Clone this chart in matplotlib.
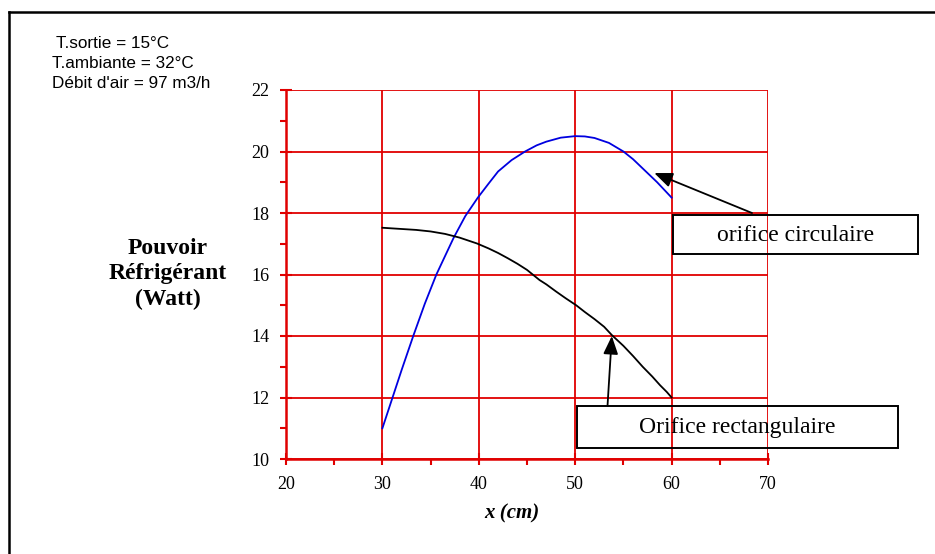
import matplotlib
matplotlib.use("Agg")
import matplotlib.pyplot as plt
from matplotlib.ticker import MultipleLocator
from matplotlib.lines import Line2D
from matplotlib.patches import Rectangle

# Data
x_circ = [30, 31, 32, 33.2, 34.4, 35.6, 36.5, 37.4, 38.6, 39.9, 41, 42, 43.4, 44.8, 46, 47,
          48.5, 50, 51, 52, 53.5, 55, 56, 57, 58.5, 60]
y_circ = [11.0, 11.95, 12.9, 14.0, 15.05, 16.0, 16.6, 17.2, 17.9, 18.5, 18.95, 19.35, 19.72,
          20.0, 20.2, 20.32, 20.45, 20.5, 20.49, 20.44, 20.28, 20.0, 19.75, 19.45, 19.0, 18.5]
x_rect = [30, 31, 32, 33.5, 35, 36.5, 38, 39.8, 41, 42, 43, 44, 45, 46.3, 47, 48, 49, 50.1,
          51, 52, 53, 53.8, 55, 56, 57, 58, 58.8, 59.5, 60]
y_rect = [17.52, 17.5, 17.48, 17.45, 17.4, 17.32, 17.2, 17.01, 16.85, 16.7, 16.53, 16.35,
          16.15, 15.82, 15.68, 15.45, 15.23, 15.0, 14.78, 14.55, 14.3, 14.03, 13.68, 13.35,
          13.0, 12.68, 12.4, 12.18, 12.0]
xticks = [20, 30, 40, 50, 60, 70]
yticks = [10, 12, 14, 16, 18, 20, 22]
info_lines = ["T.sortie = 15°C", "T.ambiante = 32°C", "Débit d'air = 97 m3/h"]
label_circ = "orifice circulaire"
label_rect = "Orifice rectangulaire"

W, H = 935, 554
fig = plt.figure(figsize=(W/100, H/100), dpi=100)
ax = fig.add_axes([286/W, 1-459/H, (768-286)/W, (459-90)/H])

red = "#e00000"
ax.plot(x_circ, y_circ, color="#0000e0", lw=1.3, zorder=3)
ax.plot(x_rect, y_rect, color="black", lw=1.3, zorder=3)

ax.set_xlim(20, 70)
ax.set_ylim(10, 22)
ax.set_xticks(xticks)
ax.set_yticks(yticks)
ax.xaxis.set_minor_locator(MultipleLocator(5))
ax.yaxis.set_minor_locator(MultipleLocator(1))
ax.grid(True, which="major", color=red, lw=1.3)
for s in ["top", "right"]:
    ax.spines[s].set_visible(False)
for s in ["left", "bottom"]:
    ax.spines[s].set_color(red)
    ax.spines[s].set_linewidth(1.8)
ax.tick_params(which="major", direction="inout", length=8, width=1.5, color=red,
               labelsize=13)
ax.tick_params(axis="x", which="major", pad=8)
ax.tick_params(axis="y", which="major", pad=8)
ax.tick_params(which="minor", direction="out", length=4, width=1.5, color=red)
for lab in ax.get_xticklabels() + ax.get_yticklabels():
    lab.set_fontfamily("Liberation Serif")

fig.text(512/W, 1-513/H, "x (cm)", ha="center", va="center", fontfamily="Liberation Serif",
         fontweight="bold", fontstyle="italic", fontsize=15)

fig.text(168/W, 1-274/H, "Pouvoir\nRéfrigérant\n(Watt)", ha="center", va="center",
         fontfamily="Liberation Serif", fontweight="bold", fontsize=17, linespacing=1.3)

ys = [43, 63, 83]
xs = [56, 52, 52]
for t, xx, yy in zip(info_lines, xs, ys):
    fig.text(xx/W, 1-yy/H, t, ha="left", va="center", fontfamily="Liberation Sans",
             fontsize=12.3)

# Annotation boxes (transparent) and labels
for (x0, y0, x1, y1), txt in [((673, 215, 918, 254), label_circ),
                              ((577, 406, 898, 448), label_rect)]:
    fig.add_artist(Rectangle((x0/W, 1-y1/H), (x1-x0)/W, (y1-y0)/H,
                             transform=fig.transFigure, fc="none", ec="black",
                             lw=1.4, zorder=4))
    fig.text((x0+x1)/2/W, 1-((y0+y1)/2+1)/H, txt, ha="center", va="center",
             fontfamily="Liberation Serif", fontsize=17, zorder=5)

# Arrows
arrow_kw = dict(arrowstyle="-|>,head_length=1.1,head_width=0.45", color="black",
                lw=1.3, shrinkA=0, shrinkB=0)
ax.annotate("", xy=(58.2, 19.3), xycoords="data",
            xytext=(752/W, 1-213/H), textcoords="figure fraction",
            arrowprops=arrow_kw, annotation_clip=False, zorder=5)
ax.annotate("", xy=(53.8, 14.0), xycoords="data",
            xytext=(607.5/W, 1-406/H), textcoords="figure fraction",
            arrowprops=arrow_kw, annotation_clip=False, zorder=5)

# Outer frame (top and left visible)
fig.add_artist(Line2D([9/W, 9/W], [0, 1-12/H], transform=fig.transFigure, color="black", lw=1.8))
fig.add_artist(Line2D([9/W, 1], [1-12/H, 1-12/H], transform=fig.transFigure, color="black", lw=1.8))

fig.savefig("out.png", dpi=100)
